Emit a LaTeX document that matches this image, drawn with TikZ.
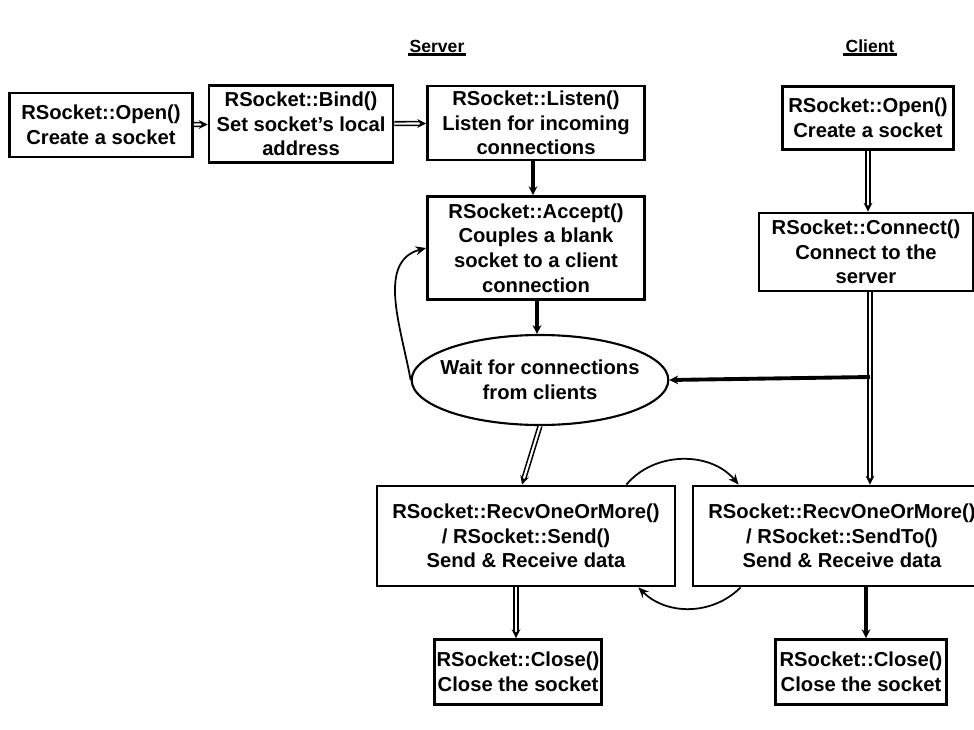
\documentclass[tikz,border=0pt]{standalone}
\usepackage{fontspec}
\setmainfont{Liberation Sans}
\usetikzlibrary{arrows.meta,calc,shapes.geometric}

\tikzset{
  box/.style={draw, line width=1.6pt, align=center, font=\bfseries\fontsize{11.5}{14}\selectfont, inner sep=1pt},
  dbl/.style={double, double distance=1.2pt, line width=0.9pt, -{Stealth[length=5pt,width=5pt]}},
  thk/.style={line width=2.2pt, -{Stealth[length=5pt,width=5pt]}},
  arc/.style={line width=1pt, -{Stealth[length=6pt,width=5pt]}},
  title/.style={font=\bfseries\fontsize{10}{12}\selectfont, inner sep=1pt}
}

\begin{document}
\begin{tikzpicture}[x=0.02cm, y=-0.02cm]
\useasboundingbox (0,0) rectangle (974,730);
\clip (0,0) rectangle (974,730);

% Headings
\node[title] (hserver) at (437,46) {Server};
\node[title] (hclient) at (870,46) {Client};
\draw[line width=2pt] (hserver.south west) -- (hserver.south east);
\draw[line width=2pt] (hclient.south west) -- (hclient.south east);

% Server side
\node[box, minimum width=3.66cm, minimum height=1.28cm] (sopen) at (101,125) {RSocket::Open()\\Create a socket};
\node[box, minimum width=3.68cm, minimum height=1.54cm] (sbind) at (301,124) {RSocket::Bind()\\Set socket's local\\address};
\node[box, minimum width=4.34cm, minimum height=1.48cm] (slisten) at (536,123) {RSocket::Listen()\\Listen for incoming\\connections};
\node[box, minimum width=4.34cm, minimum height=2.06cm] (saccept) at (536,248) {RSocket::Accept()\\Couples a blank\\socket to a client\\connection};
\node[box, ellipse, line width=1.2pt, minimum width=4.88cm, minimum height=1.8cm, inner xsep=-5pt, inner ysep=0pt] (wait) at (540,380) {Wait for connections\\from clients};
\node[box, minimum width=5.96cm, minimum height=2.0cm] (srecv) at (526,536) {RSocket::RecvOneOrMore()\\/ RSocket::Send()\\Send \& Receive data};
\node[box, minimum width=3.32cm, minimum height=1.3cm] (sclose) at (518,672) {RSocket::Close()\\Close the socket};

% Client side
\node[box, minimum width=3.42cm, minimum height=1.26cm] (copen) at (868,118) {RSocket::Open()\\Create a socket};
\node[box, minimum width=4.28cm, minimum height=1.56cm] (cconnect) at (866,252) {RSocket::Connect()\\Connect to the\\server};
\node[box, minimum width=5.96cm, minimum height=2.0cm] (crecv) at (842,536) {RSocket::RecvOneOrMore()\\/ RSocket::SendTo()\\Send \& Receive data};
\node[box, minimum width=3.42cm, minimum height=1.3cm] (cclose) at (861,672) {RSocket::Close()\\Close the socket};
\coordinate (branch) at (870,377);

% Server connectors
\draw[dbl] (sopen) -- (sbind);
\draw[dbl] (sbind) -- (slisten);
\draw[thk] (slisten.south -| 533,0) -- (saccept.north -| 533,0);
\draw[thk] (saccept.south -| 537,0) -- (wait.north -| 537,0);
\draw[arc] (wait.west) to[out=100,in=195] (saccept.west);
\draw[dbl] (wait.south) -- ($(srecv.north)+(-4,0)$);
\draw[dbl] (srecv.south -| 516,0) -- (sclose.north -| 516,0);

% Client connectors
\draw[dbl] (copen.south -| 868,0) -- (cconnect.north -| 868,0);
\draw[dbl] (cconnect.south -| branch) -- (crecv.north -| branch);
\draw[thk] (branch) -- (wait.east);
\draw[thk] (crecv.south -| 866,0) -- (cclose.north -| 866,0);

% Data exchange
\draw[arc] ($(srecv.north east)+(-50,0)$) to[out=50,in=130] ($(crecv.north west)+(47,0)$);
\draw[arc] ($(crecv.south west)+(49,0)$) to[out=-135,in=-45] ($(srecv.south east)+(-38,0)$);
\end{tikzpicture}
\end{document}
